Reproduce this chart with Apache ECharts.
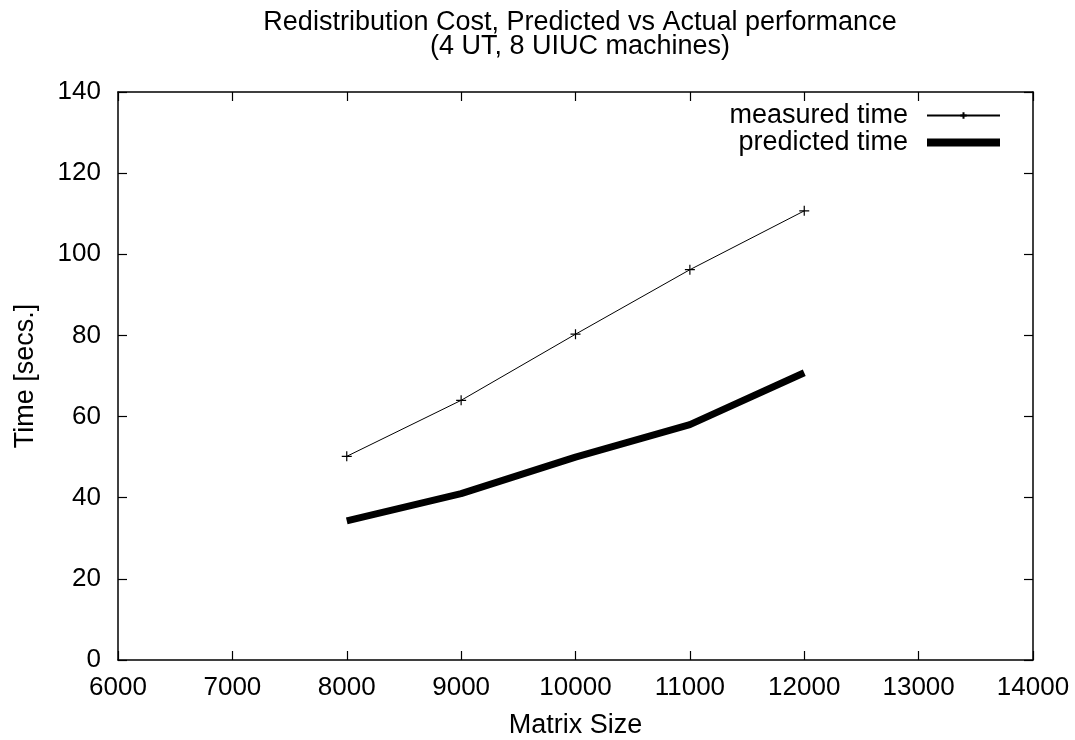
<!DOCTYPE html>
<html><head><meta charset="utf-8">
<script src="https://cdn.jsdelivr.net/npm/echarts@6/dist/echarts.min.js"></script>
<style>html,body{margin:0;padding:0;background:#fff}#c{width:1075px;height:740px}</style>
</head><body><div id="c"></div>
<script>
const matrixSizes = [8000, 9000, 10000, 11000, 12000];
const measuredTime = [50.2, 64.0, 80.3, 96.2, 110.7];
const predictedTime = [34.3, 41.0, 50.0, 58.0, 70.8];
const titleLines = ['Redistribution Cost, Predicted vs Actual performance', '(4 UT, 8 UIUC machines)'];

const FONT = 'Liberation Sans, Arial, sans-serif';
const FS = 26;
const FL = 27;
const chart = echarts.init(document.getElementById('c'), null, {renderer: 'canvas'});
const axisCommon = {
  axisLine: {show: true, onZero: false, lineStyle: {color: '#000', width: 1.5}},
  axisTick: {show: true, inside: true, length: 9, lineStyle: {color: '#000', width: 1.2}},
  splitLine: {show: false}
};
chart.setOption({
  animation: false,
  backgroundColor: '#fff',
  title: {
    text: titleLines.join('\n'),
    left: 575, top: 6, textAlign: 'center',
    textStyle: {fontFamily: FONT, fontSize: FL, fontWeight: 'normal', color: '#000', lineHeight: 24}
  },
  grid: {left: 118, right: 42, top: 92, bottom: 80, containLabel: false, outerBoundsMode: 'none'},
  legend: {
    orient: 'vertical', right: 69, top: 97, align: 'right',
    itemWidth: 73, itemHeight: 8, itemGap: 0,
    textStyle: {fontFamily: FONT, fontSize: FL, lineHeight: 27, color: '#000', padding: [0, 14, 0, 0]},
    data: [{name: 'measured time'}, {name: 'predicted time', icon: 'rect'}]
  },
  xAxis: [
    Object.assign({}, axisCommon, {
      type: 'value', min: 6000, max: 14000, interval: 1000, position: 'bottom',
      name: 'Matrix Size', nameLocation: 'middle', nameGap: 52, nameMoveOverlap: false,
      nameTextStyle: {fontFamily: FONT, fontSize: FL, color: '#000'},
      axisLabel: {fontFamily: FONT, fontSize: FS, color: '#000', margin: 15, formatter: v => String(v)}
    }),
    Object.assign({}, axisCommon, {
      type: 'value', min: 6000, max: 14000, interval: 1000, position: 'top',
      axisLabel: {show: false}
    })
  ],
  yAxis: [
    Object.assign({}, axisCommon, {
      type: 'value', min: 0, max: 140, interval: 20, position: 'left',
      name: 'Time [secs.]', nameLocation: 'middle', nameGap: 79, nameRotate: 90, nameMoveOverlap: false,
      nameTextStyle: {fontFamily: FONT, fontSize: FL, color: '#000'},
      axisLabel: {fontFamily: FONT, fontSize: FS, color: '#000', margin: 17}
    }),
    Object.assign({}, axisCommon, {
      type: 'value', min: 0, max: 140, interval: 20, position: 'right',
      axisLabel: {show: false}
    })
  ],
  series: [
    {
      name: 'measured time', type: 'line',
      data: matrixSizes.map((x, i) => [x, measuredTime[i]]),
      lineStyle: {color: '#000', width: 1},
      symbol: 'path://M0,-10 L0,10 M-10,0 L10,0', symbolSize: 10,
      itemStyle: {color: '#000', borderColor: '#000', borderWidth: 1.2},
      showSymbol: true
    },
    {
      name: 'predicted time', type: 'line',
      data: matrixSizes.map((x, i) => [x, predictedTime[i]]),
      lineStyle: {color: '#000', width: 7},
      itemStyle: {color: '#000'},
      symbol: 'none'
    }
  ]
});
</script></body></html>
